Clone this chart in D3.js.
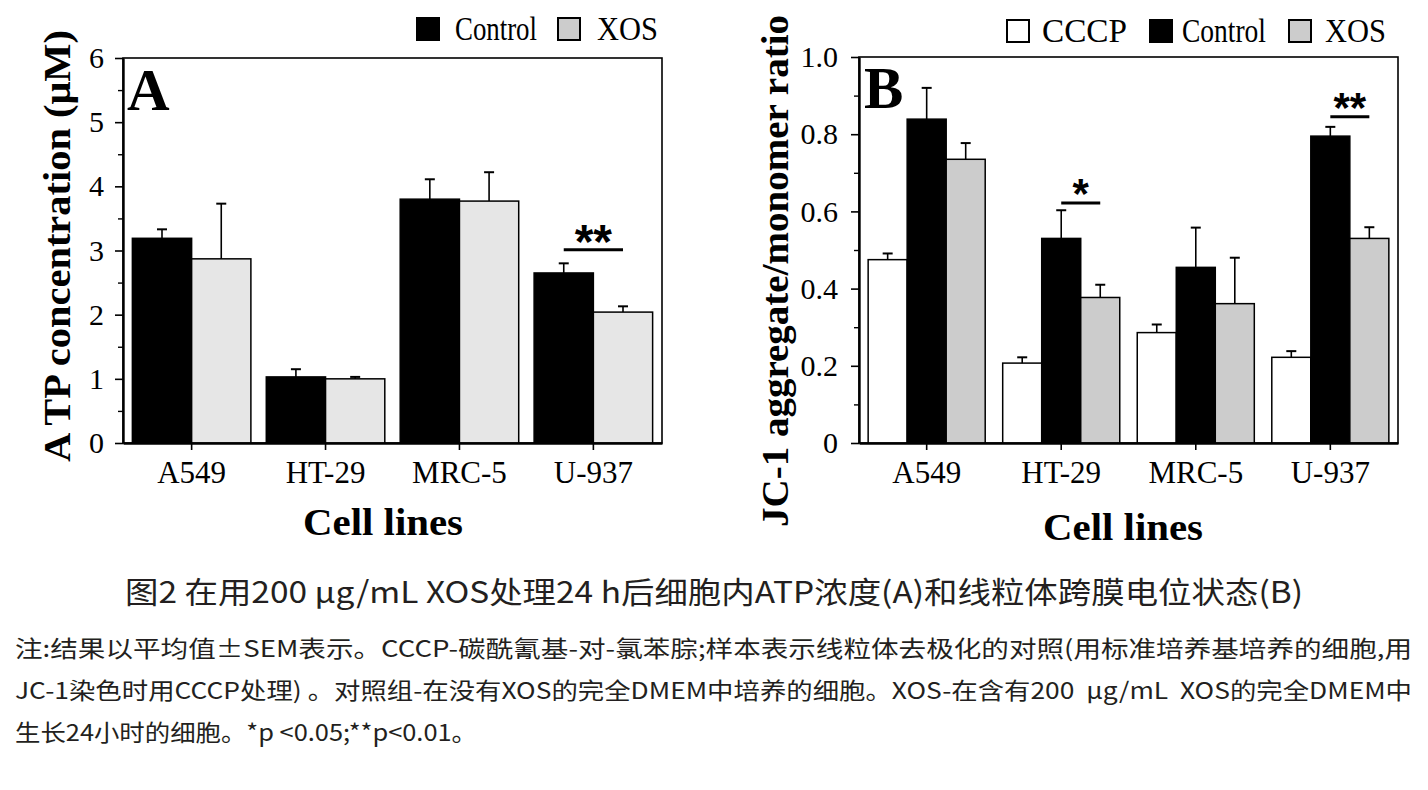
<!DOCTYPE html>
<html>
<head>
<meta charset="utf-8">
<script src="https://cdn.jsdelivr.net/npm/d3@7"></script>
<style>
  body { margin: 0; background: #fff; }
  svg { display: block; }
  text { white-space: pre; }
</style>
</head>
<body>
<svg id="fig" width="1428" height="790"></svg>
<script>
// data
const cells = ["A549", "HT-29", "MRC-5", "U-937"];

// panel A: ATP concentration (uM)
const atpControl = [3.19, 1.03, 3.80, 2.65];
const atpControlErr = [0.14, 0.12, 0.31, 0.15];
const atpXos = [2.87, 1.00, 3.77, 2.04];
const atpXosErr = [0.86, 0.03, 0.45, 0.09];
const atpTicks = [0, 1, 2, 3, 4, 5, 6];
const atpMinor = [0.5, 1.5, 2.5, 3.5, 4.5, 5.5];

// panel B: JC-1 aggregate/monomer ratio
const jcCccp = [0.475, 0.207, 0.286, 0.222];
const jcCccpErr = [0.016, 0.015, 0.021, 0.016];
const jcControl = [0.839, 0.530, 0.455, 0.795];
const jcControlErr = [0.081, 0.073, 0.103, 0.024];
const jcXos = [0.735, 0.377, 0.361, 0.530];
const jcXosErr = [0.042, 0.033, 0.119, 0.029];
const jcTicks = [0, 0.2, 0.4, 0.6, 0.8, 1.0];
const jcMinor = [0.1, 0.3, 0.5, 0.7, 0.9];

// significance marks: bar pair and level of the line (data units)
const atpSig = [{ cell: "U-937", from: "Control", to: "XOS", level: 3.01, label: "**" }];
const jcSig = [
  { cell: "HT-29", from: "Control", to: "XOS", level: 0.622, label: "*" },
  { cell: "U-937", from: "Control", to: "XOS", level: 0.845, label: "**" }
];

const svg = d3.select("#fig");
const serif = "'Liberation Serif','Times New Roman',serif";
const sans = "'Liberation Sans',Arial,sans-serif";
const cjk = "'Noto Sans CJK SC','Noto Sans',sans-serif";

function drawPanel(p) {
  const g = svg.append("g");
  const x = d3.scaleBand().domain(cells).range([p.left, p.right])
    .paddingInner(p.padIn).paddingOuter(p.padOut);
  const xs = d3.scaleBand().domain(p.series.map(s => s.name)).range([0, x.bandwidth()]);
  const y = d3.scaleLinear().domain([0, p.yMax]).range([p.bottom, p.top]);

  g.append("rect")
    .attr("x", p.left).attr("y", p.top)
    .attr("width", p.right - p.left).attr("height", p.bottom - p.top)
    .attr("fill", "none").attr("stroke", "#000").attr("stroke-width", 1.6);

  p.series.forEach(s => {
    const rows = cells.map((c, i) => ({ cell: c, v: s.values[i], e: s.errors[i] }));
    const cx = d => x(d.cell) + xs(s.name) + xs.bandwidth() / 2;
    const sg = g.append("g");
    sg.selectAll("rect").data(rows).join("rect")
      .attr("x", d => x(d.cell) + xs(s.name))
      .attr("width", xs.bandwidth())
      .attr("y", d => y(d.v))
      .attr("height", d => y(0) - y(d.v))
      .attr("fill", s.color).attr("stroke", "#000").attr("stroke-width", 1.5);
    sg.selectAll("line.err").data(rows).join("line").attr("class", "err")
      .attr("x1", cx).attr("x2", cx)
      .attr("y1", d => y(d.v)).attr("y2", d => y(d.v + d.e))
      .attr("stroke", "#000").attr("stroke-width", 1.6);
    sg.selectAll("line.cap").data(rows).join("line").attr("class", "cap")
      .attr("x1", d => cx(d) - 5).attr("x2", d => cx(d) + 5)
      .attr("y1", d => y(d.v + d.e)).attr("y2", d => y(d.v + d.e))
      .attr("stroke", "#000").attr("stroke-width", 2);
  });

  // y axis
  const ya = g.append("g").attr("transform", `translate(${p.left},0)`)
    .call(d3.axisLeft(y).tickValues(p.ticks).tickSize(8).tickPadding(p.tickPad)
      .tickFormat(p.fmt).tickSizeOuter(0));
  ya.select(".domain").attr("stroke-width", 2.4);
  ya.selectAll(".tick line").attr("stroke-width", 1.6);
  ya.selectAll("text").attr("font-family", serif).attr("font-size", p.tickFont).attr("fill", "#000");
  g.append("g").attr("transform", `translate(${p.left},0)`)
    .call(d3.axisLeft(y).tickValues(p.minor).tickSize(5).tickFormat(""))
    .call(a => a.select(".domain").remove())
    .selectAll("line").attr("stroke-width", 1.4);

  // x axis
  const xa = g.append("g").attr("transform", `translate(0,${p.bottom})`)
    .call(d3.axisBottom(x).tickSize(7).tickPadding(11).tickSizeOuter(0));
  xa.select(".domain").attr("stroke-width", 2.4);
  xa.selectAll(".tick line").attr("stroke-width", 1.6);
  xa.selectAll("text").attr("font-family", serif).attr("font-size", 31).attr("fill", "#000");

  // significance
  p.sig.forEach(s => {
    const xa0 = x(s.cell) + xs(s.from) + xs.bandwidth() / 2;
    const xb0 = x(s.cell) + xs(s.to) + xs.bandwidth() / 2;
    g.append("line")
      .attr("x1", xa0).attr("x2", xb0).attr("y1", y(s.level)).attr("y2", y(s.level))
      .attr("stroke", "#000").attr("stroke-width", 3);
    g.append("text")
      .attr("x", (xa0 + xb0) / 2).attr("y", y(s.level) + p.starDy)
      .attr("text-anchor", "middle").attr("font-family", sans).attr("font-weight", "bold")
      .attr("font-size", p.starFont).text(s.label);
  });

  // panel letter
  g.append("text").attr("x", p.letterX).attr("y", p.letterY)
    .attr("font-family", serif).attr("font-weight", "bold").attr("font-size", 59)
    .text(p.letter);

  // axis titles
  g.append("text")
    .attr("transform", `translate(${p.yTitleX},${p.yTitleY}) rotate(-90)`)
    .attr("text-anchor", "middle").attr("font-family", serif).attr("font-weight", "bold")
    .attr("font-size", 38).attr("textLength", p.yTitleLen).attr("lengthAdjust", "spacingAndGlyphs")
    .text(p.yTitle);
  g.append("text")
    .attr("x", p.xTitleX).attr("y", p.xTitleY)
    .attr("text-anchor", "middle").attr("font-family", serif).attr("font-weight", "bold")
    .attr("font-size", 38).attr("textLength", 160).attr("lengthAdjust", "spacingAndGlyphs")
    .text("Cell lines");

  // legend
  const lg = g.append("g");
  p.legend.forEach(l => {
    const s = p.series.find(d => d.name === l.name);
    lg.append("rect").attr("x", l.x).attr("y", p.legendY)
      .attr("width", 22).attr("height", 22)
      .attr("fill", l.fill || s.color).attr("stroke", "#000").attr("stroke-width", 2);
    lg.append("text").attr("x", l.tx).attr("y", p.legendY + 22)
      .attr("font-family", serif).attr("font-size", 33)
      .attr("textLength", l.len).attr("lengthAdjust", "spacingAndGlyphs")
      .text(l.name);
  });
}

drawPanel({
  left: 123, right: 662, top: 58, bottom: 443, padIn: 0.115, padOut: 0.07,
  yMax: 6, ticks: atpTicks, minor: atpMinor, fmt: d3.format("d"), tickFont: 30, tickPad: 11,
  series: [
    { name: "Control", values: atpControl, errors: atpControlErr, color: "#000" },
    { name: "XOS", values: atpXos, errors: atpXosErr, color: "#e6e6e6" }
  ],
  sig: atpSig, starFont: 48, starDy: 8,
  letter: "A", letterX: 127, letterY: 110,
  yTitle: "A TP concentration (\u03bcM)", yTitleX: 70, yTitleY: 246, yTitleLen: 432,
  xTitleX: 383, xTitleY: 535,
  legendY: 18,
  legend: [
    { name: "Control", x: 417, tx: 455, len: 82 },
    { name: "XOS", x: 558, tx: 597, len: 61, fill: "#cccccc" }
  ]
});

drawPanel({
  left: 859, right: 1398, top: 57, bottom: 443, padIn: 0.13, padOut: 0.068,
  yMax: 1, ticks: jcTicks, minor: jcMinor, fmt: d => d === 0 ? "0" : d3.format(".1f")(d),
  tickFont: 30, tickPad: 13,
  series: [
    { name: "CCCP", values: jcCccp, errors: jcCccpErr, color: "#fff" },
    { name: "Control", values: jcControl, errors: jcControlErr, color: "#000" },
    { name: "XOS", values: jcXos, errors: jcXosErr, color: "#cccccc" }
  ],
  sig: jcSig, starFont: 42, starDy: 5,
  letter: "B", letterX: 864, letterY: 108,
  yTitle: "JC-1 aggregate/monomer ratio", yTitleX: 788, yTitleY: 271, yTitleLen: 512,
  xTitleX: 1123, xTitleY: 540,
  legendY: 20,
  legend: [
    { name: "CCCP", x: 1007, tx: 1042, len: 85 },
    { name: "Control", x: 1150, tx: 1182, len: 84 },
    { name: "XOS", x: 1289, tx: 1325, len: 61 }
  ]
});

// caption
const captionTitle = "图2 在用200 μg/mL XOS处理24 h后细胞内ATP浓度(A)和线粒体跨膜电位状态(B)";
const captionNotes = [
  "注:结果以平均值±SEM表示。CCCP-碳酰氰基-对-氯苯腙;样本表示线粒体去极化的对照(用标准培养基培养的细胞,用",
  "JC-1染色时用CCCP处理) 。对照组-在没有XOS的完全DMEM中培养的细胞。XOS-在含有200  μg/mL  XOS的完全DMEM中",
  "生长24小时的细胞。*p <0.05;**p<0.01。"
];
const noteLens = [1397, 1397, 462];

svg.append("text").attr("x", 714).attr("y", 603).attr("text-anchor", "middle")
  .attr("font-family", cjk).attr("font-size", 30).attr("fill", "#231f20")
  .attr("textLength", 1178).attr("lengthAdjust", "spacingAndGlyphs")
  .text(captionTitle);

svg.selectAll("text.note").data(captionNotes).join("text").attr("class", "note")
  .attr("x", 15).attr("y", (d, i) => 657 + i * 42)
  .attr("font-family", cjk).attr("font-size", 23).attr("fill", "#231f20")
  .attr("textLength", (d, i) => noteLens[i]).attr("lengthAdjust", "spacingAndGlyphs")
  .text(d => d);
</script>
</body>
</html>
